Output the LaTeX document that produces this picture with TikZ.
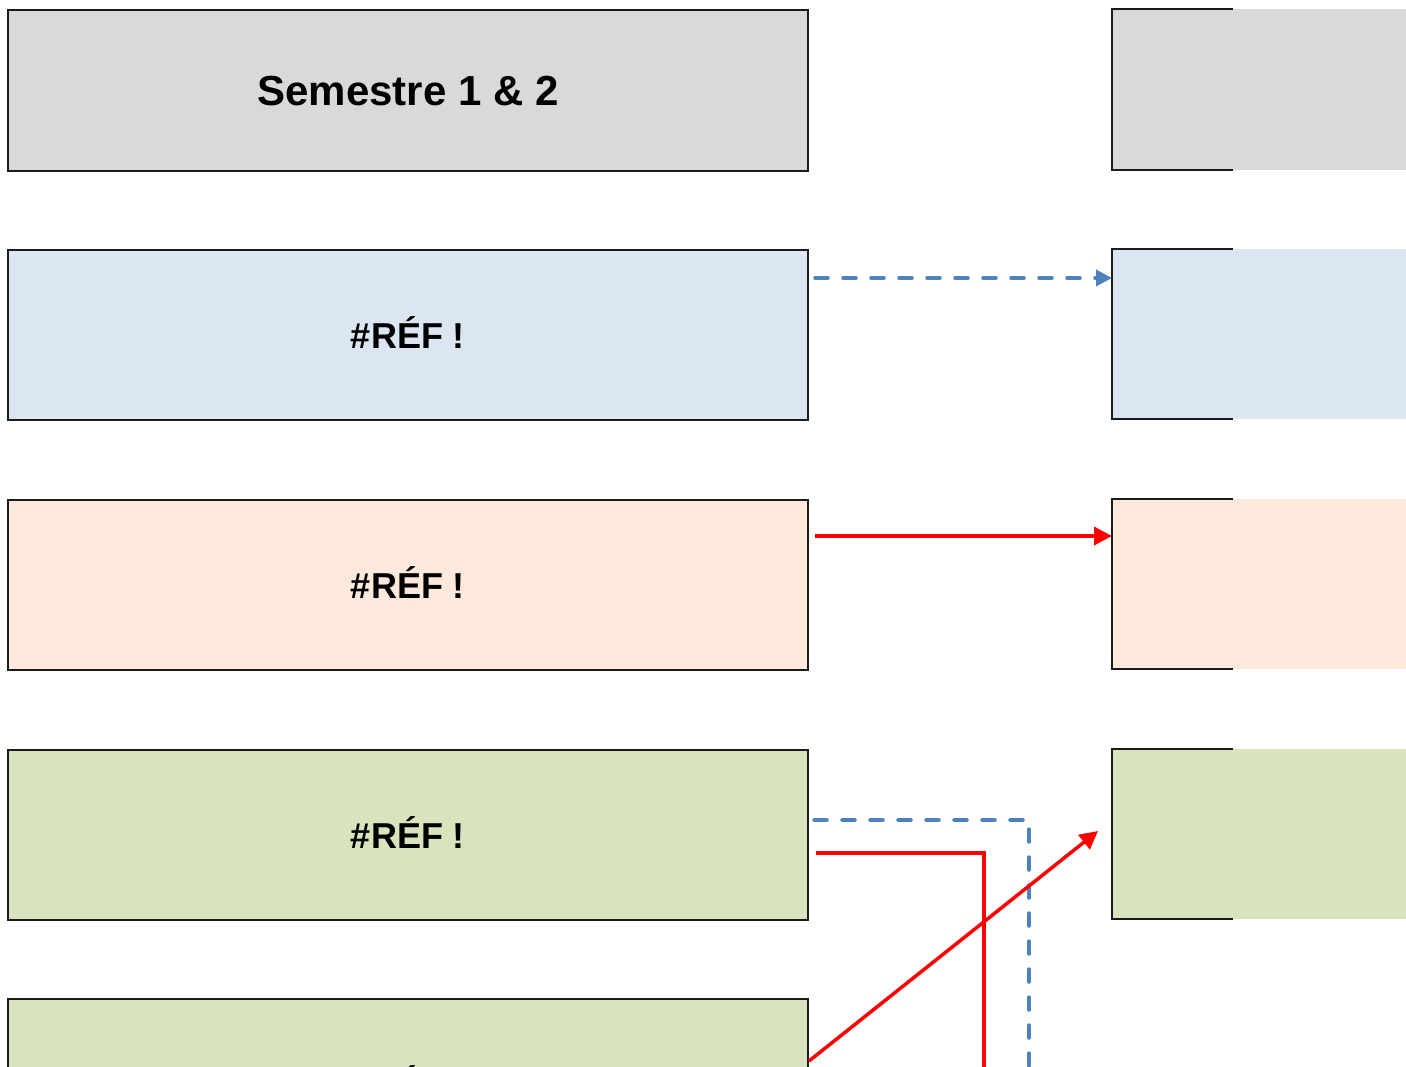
\documentclass[tikz,border=0pt]{standalone}
\usepackage{fontspec}
\setmainfont{Liberation Sans}
\usetikzlibrary{arrows.meta}
\definecolor{cgray}{HTML}{D9D9D9}
\definecolor{cblue}{HTML}{DCE6F2}
\definecolor{cpeach}{HTML}{FDE9DB}
\definecolor{cgreen}{HTML}{D7E4BD}
\definecolor{lblue}{HTML}{4F81BD}
\definecolor{lred}{HTML}{FF0000}
\definecolor{bord}{HTML}{1A1A1A}
\tikzset{
  leftbox/.style={draw=bord, line width=2pt, minimum width=800pt, anchor=north west, inner sep=0pt,
    font=\bfseries\fontsize{36}{40}\selectfont, text height=26pt, text depth=0pt},
  rightfill/.style={inner sep=0pt, anchor=north west, minimum width=294pt},
  bluedash/.style={draw=lblue, line width=3.5pt, dash pattern=on 13pt off 15pt, line cap=round},
  redline/.style={draw=lred, line width=3.5pt},
  redtip/.style={-{Triangle[length=18pt,width=18pt]}},
  bluetip/.style={-{Triangle[length=16pt,width=16pt]}},
}
\begin{document}
\begin{tikzpicture}[x=1pt,y=-1pt]
\useasboundingbox (0,0) rectangle (1406,1066);
\clip (0,0) rectangle (1406,1066);
% left boxes
\node[leftbox, fill=cgray, minimum height=161pt, font=\bfseries\fontsize{42}{48}\selectfont, text height=30pt] (l1) at (7,9) {Semestre 1 \& 2};
\node[leftbox, fill=cblue, minimum height=170pt] (l2) at (7,249) {\#RÉF !};
\node[leftbox, fill=cpeach, minimum height=170pt] (l3) at (7,499) {\#RÉF !};
\node[leftbox, fill=cgreen, minimum height=170pt] (l4) at (7,749) {\#RÉF !};
\node[leftbox, fill=cgreen, minimum height=170pt] (l5) at (7,998) {\#RÉF !};
% right boxes (partially shown)
\node[rightfill, fill=cgray, minimum height=161pt] (r1) at (1112,9) {};
\node[rightfill, fill=cblue, minimum height=170pt] (r2) at (1112,249) {};
\node[rightfill, fill=cpeach, minimum height=170pt] (r3) at (1112,499) {};
\node[rightfill, fill=cgreen, minimum height=170pt] (r4) at (1112,749) {};
\foreach \r in {r1,r2,r3,r4}{
  \draw[bord, line width=2pt] ([xshift=121pt]\r.north west) -- (\r.north west) -- (\r.south west) -- ([xshift=121pt]\r.south west);
}
% connectors
\draw[bluedash, bluetip] ([xshift=6pt]l2.east |- 0,278) -- (r2.west |- 0,278);
\draw[redline, redtip] ([xshift=6pt]l3.east |- 0,536) -- (r3.west |- 0,536);
\coordinate (b1) at (1029,820);
\coordinate (b2) at (1029,1080);
\draw[bluedash] ([xshift=5pt]l4.east |- b1) -- (b1) -- (b2);
\coordinate (c1) at (984,853);
\coordinate (c2) at (984,1080);
\draw[redline] ([xshift=7pt]l4.east |- c1) -- (c1) -- (c2);
\coordinate (d1) at (1098,831);
\draw[redline, redtip] (l5.east |- 0,1061) -- (d1);
\end{tikzpicture}
\end{document}
